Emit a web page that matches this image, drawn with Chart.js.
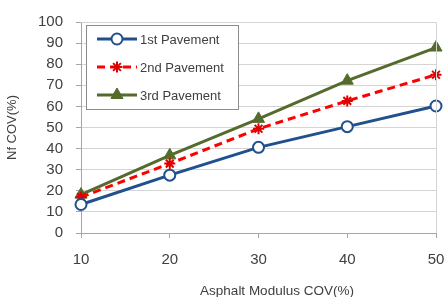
<!DOCTYPE html>
<html>
<head>
<meta charset="utf-8">
<script src="https://cdn.jsdelivr.net/npm/chart.js@4"></script>
<style>
  html, body { margin: 0; padding: 0; background: #fff; }
  #wrap { width: 445px; height: 297px; }
</style>
</head>
<body>
<div id="wrap"><canvas id="chart" width="445" height="297"></canvas></div>
<script>
// values
const categories = ['10', '20', '30', '40', '50'];
const pavement1 = [13.5, 27.4, 40.6, 50.4, 60.2];
const pavement2 = [17, 32.9, 49.4, 62.6, 75];
const pavement3 = [18.2, 36.8, 54.1, 72.2, 87.9];
const seriesNames = ['1st Pavement', '2nd Pavement', '3rd Pavement'];
const yTicks = [0, 10, 20, 30, 40, 50, 60, 70, 80, 90, 100];
const xTitle = 'Asphalt Modulus COV(%)';
const yTitle = 'Nf COV(%)';

const FONT = '"Liberation Sans", Arial, sans-serif';

// plot frame, x title (sits right of centre in the original) and legend box
const frameAndLegend = {
    id: 'frameAndLegend',
    afterDraw(chart) {
        const ctx = chart.ctx;
        const a = chart.chartArea;
        ctx.save();
        ctx.strokeStyle = '#D4D4D4';
        ctx.lineWidth = 1;
        ctx.beginPath();
        ctx.moveTo(a.left, a.top + 0.5);
        ctx.lineTo(a.right + 0.5, a.top + 0.5);
        ctx.lineTo(a.right + 0.5, a.bottom);
        ctx.stroke();

        ctx.fillStyle = '#404040';
        ctx.font = '13.5px ' + FONT;
        ctx.textAlign = 'center';
        ctx.textBaseline = 'alphabetic';
        ctx.fillText(xTitle, 277, 295);

        // legend
        const bx = 86.5, by = 25.5, bw = 152, bh = 84;
        ctx.fillStyle = '#fff';
        ctx.fillRect(bx, by, bw, bh);
        ctx.strokeStyle = '#8C8C8C';
        ctx.strokeRect(bx, by, bw, bh);

        chart.data.datasets.forEach((ds, i) => {
            const y = 39 + i * 28;
            ctx.strokeStyle = ds.borderColor;
            ctx.lineWidth = 3;
            ctx.setLineDash(ds.borderDash || []);
            ctx.beginPath();
            ctx.moveTo(97, y);
            ctx.lineTo(137, y);
            ctx.stroke();
            ctx.setLineDash([]);
            ctx.fillStyle = ds.pointBackgroundColor;
            ctx.strokeStyle = ds.pointBorderColor;
            ctx.lineWidth = ds.pointBorderWidth;
            Chart.helpers.drawPoint(ctx, {
                pointStyle: ds.pointStyle,
                radius: ds.pointRadius,
                borderWidth: ds.pointBorderWidth
            }, 117, y);
            ctx.fillStyle = '#404040';
            ctx.font = '13px ' + FONT;
            ctx.textBaseline = 'middle';
            ctx.textAlign = 'left';
            ctx.fillText(seriesNames[i], 140, y + 1);
        });
        ctx.restore();
    }
};

new Chart(document.getElementById('chart'), {
    type: 'line',
    data: {
        labels: categories,
        datasets: [
            {
                label: seriesNames[0],
                data: pavement1,
                borderColor: '#21508F',
                borderWidth: 3,
                pointStyle: 'circle',
                pointRadius: 5.5,
                pointBorderWidth: 2,
                pointBackgroundColor: '#fff',
                pointBorderColor: '#21508F'
            },
            {
                label: seriesNames[1],
                data: pavement2,
                borderColor: '#FF0000',
                borderWidth: 3,
                borderDash: [8, 5],
                pointStyle: 'star',
                pointRadius: 5.5,
                pointBorderWidth: 2,
                pointBackgroundColor: '#FF0000',
                pointBorderColor: '#E00000'
            },
            {
                label: seriesNames[2],
                data: pavement3,
                borderColor: '#556B2B',
                borderWidth: 3,
                pointStyle: 'triangle',
                pointRadius: 7,
                pointBorderWidth: 1,
                pointBackgroundColor: '#556B2B',
                pointBorderColor: '#556B2B'
            }
        ]
    },
    options: {
        responsive: false,
        animation: false,
        layout: { padding: { top: 21, right: 9, left: 0, bottom: 0 } },
        plugins: {
            legend: { display: false },
            tooltip: { enabled: false }
        },
        scales: {
            x: {
                offset: false,
                afterFit(scale) {
                    scale.height = 64;
                    scale.paddingRight = 0;
                    scale.paddingLeft = 0;
                },
                grid: {
                    drawOnChartArea: false,
                    color: '#A6A6A6',
                    tickLength: 5
                },
                border: { color: '#A6A6A6' },
                ticks: {
                    color: '#404040',
                    padding: 13,
                    font: { family: FONT, size: 15 }
                }
            },
            y: {
                min: 0,
                max: 100,
                afterFit(scale) { scale.width = 81; },
                afterBuildTicks(scale) { scale.ticks = yTicks.map(v => ({ value: v })); },
                grid: {
                    color: '#D4D4D4',
                    tickColor: '#A6A6A6',
                    tickLength: 5
                },
                border: { color: '#A6A6A6' },
                ticks: {
                    color: '#404040',
                    padding: 13,
                    font: { family: FONT, size: 15 }
                },
                title: {
                    display: true,
                    text: yTitle,
                    color: '#404040',
                    font: { family: FONT, size: 13 },
                    padding: { top: 5, bottom: 0 }
                }
            }
        }
    },
    plugins: [frameAndLegend]
});
</script>
</body>
</html>
